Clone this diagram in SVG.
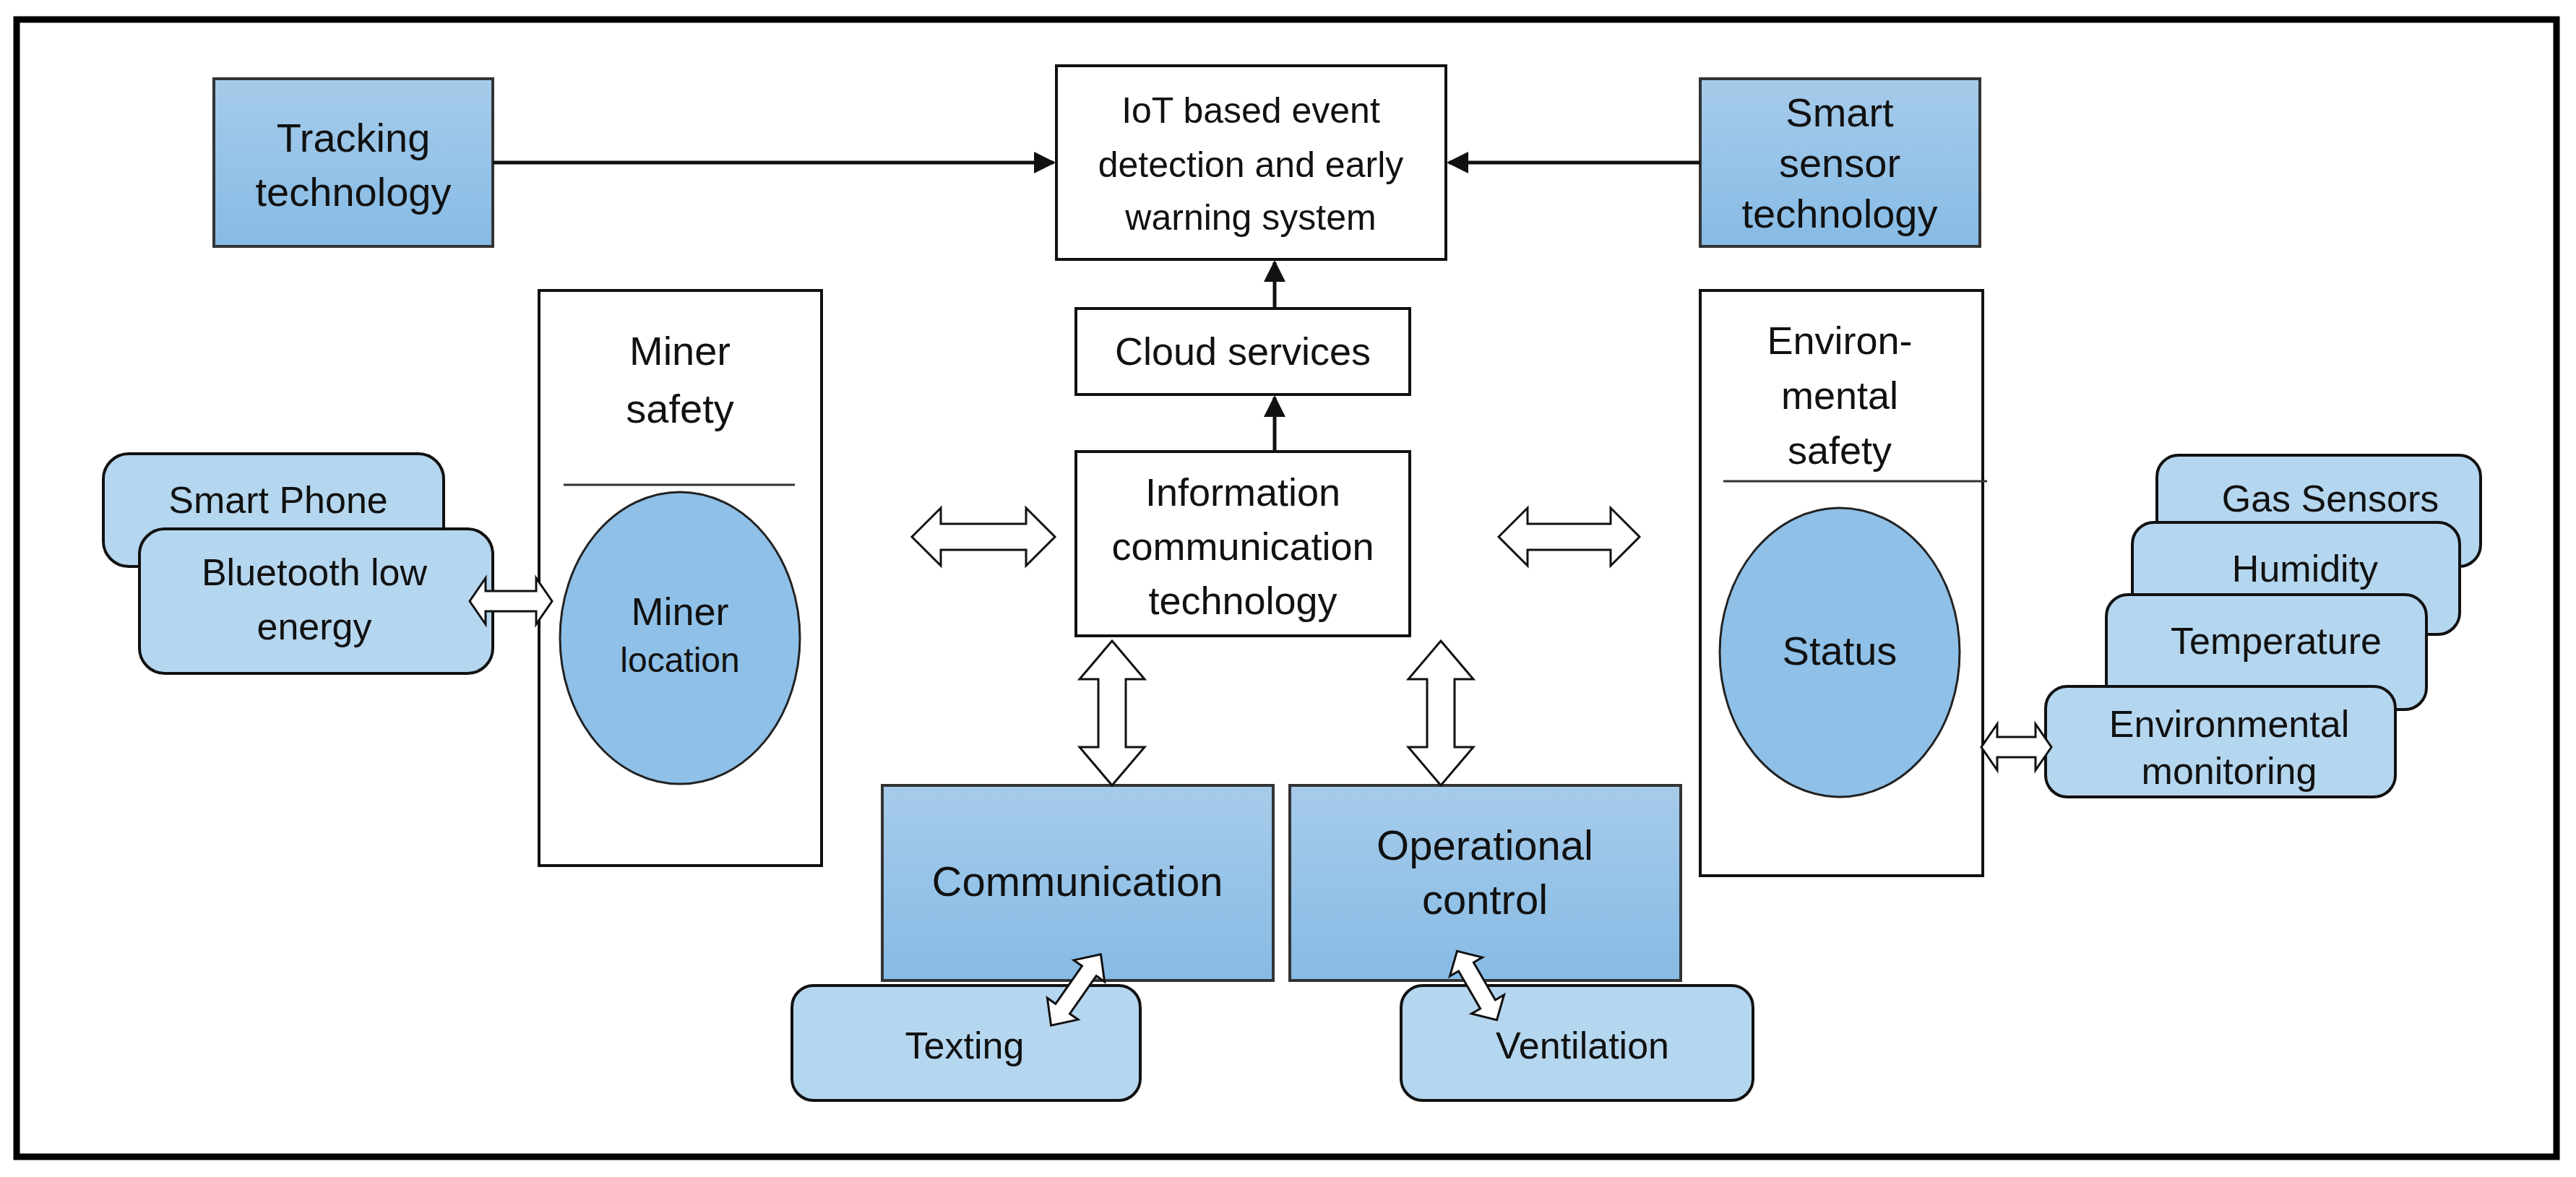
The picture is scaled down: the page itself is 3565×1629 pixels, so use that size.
<svg xmlns="http://www.w3.org/2000/svg" width="3565" height="1629" viewBox="0 0 3565 1629">
<style>
text{font-family:"Liberation Sans",Arial,sans-serif;fill:#111;text-anchor:middle}
.w{fill:#fff;stroke:#111;stroke-width:4}
.d{fill:url(#gd);stroke:#333;stroke-width:4}
.l{fill:#b5d6ef;stroke:#111;stroke-width:4}
.c{fill:#8fc0e7;stroke:#222;stroke-width:3}
.da{fill:#fff;stroke:#111;stroke-width:3}
.ln{stroke:#111;stroke-width:5;fill:none}
</style>
<defs>
<linearGradient id="gd" x1="0" y1="0" x2="0" y2="1"><stop offset="0" stop-color="#a6cbea"/><stop offset="1" stop-color="#86bbe5"/></linearGradient>
<marker id="ah" viewBox="0 0 10 10" refX="9" refY="5" markerWidth="6" markerHeight="6" orient="auto"><path d="M0,0L10,5L0,10z" fill="#111"/></marker>
</defs>
<rect x="23" y="27" width="3515" height="1574" fill="#fff" stroke="#000" stroke-width="9"/>
<g id="tracking"><rect class="d" x="296" y="109" width="386" height="232"/><text x="489" y="210" font-size="56">Tracking</text><text x="489" y="285" font-size="56">technology</text></g>
<g id="iot"><rect class="w" x="1462" y="91" width="539" height="268"/><text x="1731" y="170" font-size="50">IoT based event</text><text x="1731" y="245" font-size="50">detection and early</text><text x="1731" y="318" font-size="50">warning system</text></g>
<g id="smart"><rect class="d" x="2353" y="109" width="387" height="232"/><text x="2546" y="175" font-size="56">Smart</text><text x="2546" y="245" font-size="56">sensor</text><text x="2546" y="315" font-size="56">technology</text></g>
<g id="cloud"><rect class="w" x="1489" y="427" width="462" height="119"/><text x="1720" y="505" font-size="54">Cloud services</text></g>
<g id="ict"><rect class="w" x="1489" y="625" width="462" height="255"/><text x="1720" y="700" font-size="54">Information</text><text x="1720" y="775" font-size="54">communication</text><text x="1720" y="850" font-size="54">technology</text></g>
<g id="miner"><rect class="w" x="746" y="402" width="391" height="796"/><text x="941" y="505" font-size="56">Miner</text><text x="941" y="585" font-size="56">safety</text><line x1="780" y1="671" x2="1100" y2="671" stroke="#333" stroke-width="3"/></g>
<g id="minerloc"><ellipse class="c" cx="941" cy="883" rx="166" ry="202"/><text x="941" y="865" font-size="54">Miner</text><text x="941" y="930" font-size="48">location</text></g>
<g id="phone"><rect class="l" x="143" y="628" width="471" height="156" rx="35"/><text x="385" y="710" font-size="52">Smart Phone</text></g>
<g id="ble"><rect class="l" x="193" y="732" width="489" height="200" rx="35"/><text x="435" y="810" font-size="52">Bluetooth low</text><text x="435" y="885" font-size="52">energy</text></g>
<g id="env"><rect class="w" x="2353" y="402" width="391" height="810"/><text x="2546" y="490" font-size="54">Environ-</text><text x="2546" y="566" font-size="54">mental</text><text x="2546" y="642" font-size="54">safety</text><line x1="2385" y1="666" x2="2750" y2="666" stroke="#333" stroke-width="3"/></g>
<g id="status"><ellipse class="c" cx="2546" cy="903" rx="166" ry="200"/><text x="2546" y="920" font-size="56">Status</text></g>
<g id="gas"><rect class="l" x="2985" y="630" width="448" height="154" rx="30"/><text x="3225" y="708" font-size="52">Gas Sensors</text></g>
<g id="hum"><rect class="l" x="2951" y="723" width="453" height="155" rx="30"/><text x="3190" y="805" font-size="52">Humidity</text></g>
<g id="temp"><rect class="l" x="2915" y="823" width="443" height="159" rx="30"/><text x="3150" y="905" font-size="52">Temperature</text></g>
<g id="envmon"><rect class="l" x="2831" y="950" width="484" height="153" rx="30"/><text x="3085" y="1020" font-size="52">Environmental</text><text x="3085" y="1085" font-size="52">monitoring</text></g>
<g id="comm"><rect class="d" x="1221" y="1087" width="541" height="270"/><text x="1491" y="1240" font-size="58">Communication</text></g>
<g id="opc"><rect class="d" x="1785" y="1087" width="541" height="270"/><text x="2055" y="1190" font-size="58">Operational</text><text x="2055" y="1265" font-size="58">control</text></g>
<g id="texting"><rect class="l" x="1096" y="1364" width="482" height="159" rx="30"/><text x="1335" y="1465" font-size="52">Texting</text></g>
<g id="vent"><rect class="l" x="1939" y="1364" width="487" height="159" rx="30"/><text x="2190" y="1465" font-size="52">Ventilation</text></g>
<g id="connectors">
<line class="ln" x1="682" y1="225" x2="1458" y2="225" marker-end="url(#ah)"/>
<line class="ln" x1="2353" y1="225" x2="2005" y2="225" marker-end="url(#ah)"/>
<line class="ln" x1="1764" y1="427" x2="1764" y2="363" marker-end="url(#ah)"/>
<line class="ln" x1="1764" y1="625" x2="1764" y2="550" marker-end="url(#ah)"/>
<path class="da" d="M1262,743 L1302,703 L1302,725 L1420,725 L1420,703 L1460,743 L1420,783 L1420,761 L1302,761 L1302,783 Z"/>
<path class="da" d="M2074,743 L2114,703 L2114,725 L2229,725 L2229,703 L2269,743 L2229,783 L2229,761 L2114,761 L2114,783 Z"/>
<path class="da" d="M650,832 L672,800 L672,818 L742,818 L742,800 L764,832 L742,864 L742,846 L672,846 L672,864 Z"/>
<path class="da" d="M2742,1034 L2764,1002 L2764,1020 L2817,1020 L2817,1002 L2839,1034 L2817,1066 L2817,1048 L2764,1048 L2764,1066 Z"/>
<path class="da" d="M1539,887 L1584,940 L1558,940 L1558,1034 L1584,1034 L1539,1087 L1494,1034 L1520,1034 L1520,940 L1494,940 Z"/>
<path class="da" d="M1994,887 L2039,940 L2013,940 L2013,1034 L2039,1034 L1994,1087 L1949,1034 L1975,1034 L1975,940 L1949,940 Z"/>
<path class="da" transform="translate(1489,1370) rotate(-55)" d="M-60,0 L-32,-26 L-32,-12 L32,-12 L32,-26 L60,0 L32,26 L32,12 L-32,12 L-32,26 Z"/>
<path class="da" transform="translate(2044,1364) rotate(60)" d="M-55,0 L-30,-26 L-30,-12 L30,-12 L30,-26 L55,0 L30,26 L30,12 L-30,12 L-30,26 Z"/>
</g>
</svg>
